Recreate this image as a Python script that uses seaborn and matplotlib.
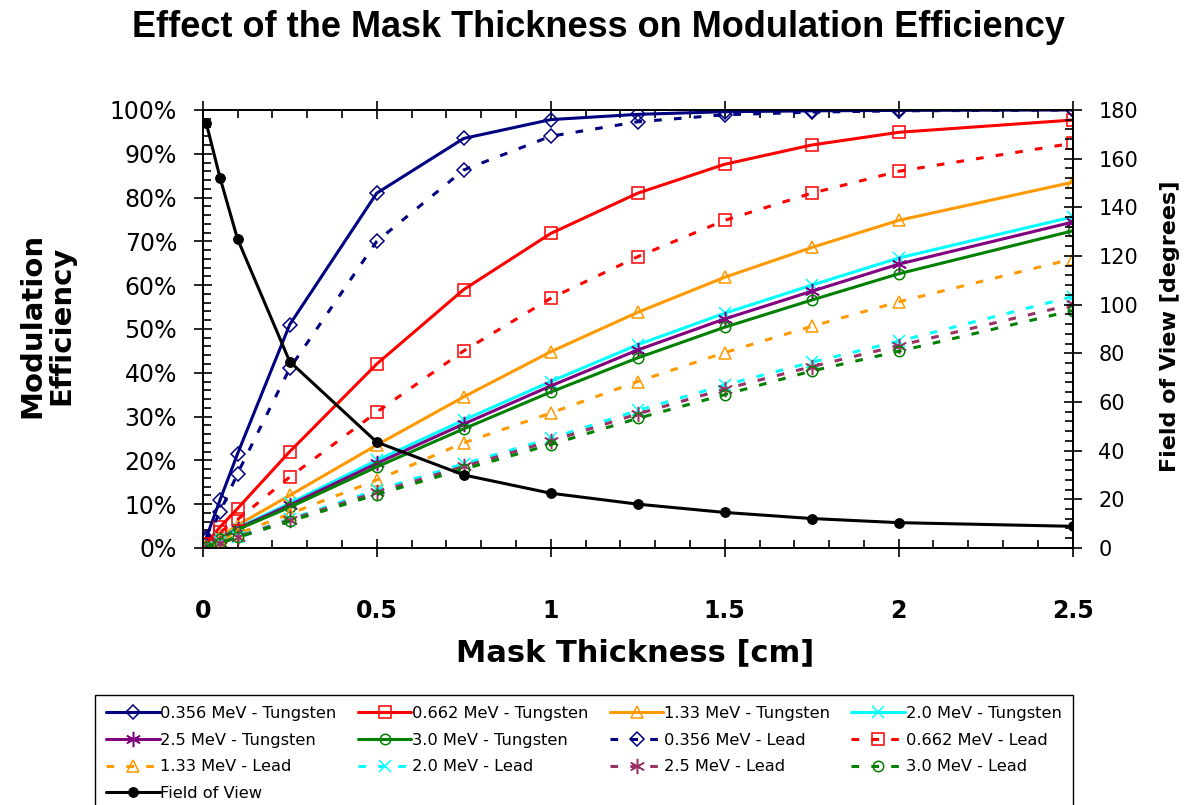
import numpy as np
import pandas as pd
import matplotlib
matplotlib.use("Agg")
import matplotlib.pyplot as plt
from matplotlib.ticker import MultipleLocator, FuncFormatter
import seaborn as sns

# Mask thickness [cm] at which every series was evaluated
thickness = [0.01, 0.05, 0.1, 0.25, 0.5, 0.75, 1.0, 1.25, 1.5, 1.75, 2.0, 2.5]

# Modulation efficiency [%] for a tungsten mask
w_0356 = [2.3, 11.0, 21.5, 51.0, 81.0, 93.5, 97.8, 99.0, 99.6, 99.8, 99.9, 100.0]
w_0662 = [1.0, 4.8, 9.0, 22.0, 42.0, 59.0, 71.8, 81.0, 87.6, 92.0, 94.9, 97.7]
w_133 = [0.6, 2.6, 5.2, 12.0, 23.5, 34.5, 44.8, 53.8, 61.8, 68.6, 74.8, 83.5]
w_20 = [0.5, 2.2, 4.6, 10.2, 20.0, 29.2, 38.0, 46.4, 53.6, 60.0, 66.2, 75.6]
w_25 = [0.5, 2.1, 4.4, 9.8, 19.3, 28.3, 37.0, 45.2, 52.3, 58.6, 64.8, 74.4]
w_30 = [0.5, 2.0, 4.2, 9.3, 18.5, 27.2, 35.6, 43.4, 50.4, 56.6, 62.6, 72.4]

# Modulation efficiency [%] for a lead mask
pb_0356 = [1.8, 8.2, 17.0, 41.0, 70.0, 86.3, 94.0, 97.3, 98.9, 99.5, 99.8, 100.0]
pb_0662 = [0.8, 3.6, 6.5, 16.2, 31.0, 45.0, 57.0, 66.5, 74.8, 81.0, 86.0, 92.4]
pb_133 = [0.4, 1.6, 3.2, 7.8, 15.5, 24.0, 30.8, 38.0, 44.6, 50.6, 56.2, 66.0]
pb_20 = [0.3, 1.3, 2.6, 6.6, 13.2, 19.2, 25.0, 31.4, 37.2, 42.4, 47.2, 57.4]
pb_25 = [0.3, 1.2, 2.5, 6.4, 12.7, 18.6, 24.4, 30.6, 36.3, 41.4, 46.2, 55.6]
pb_30 = [0.3, 1.1, 2.4, 6.1, 12.2, 18.0, 23.6, 29.6, 35.0, 40.4, 44.9, 54.2]

# Field of view [degrees]
fov = [174.7, 152.0, 127.0, 76.6, 43.5, 30.0, 22.5, 18.0, 14.6, 12.1, 10.4, 8.9]

energies = ["0.356", "0.662", "1.33", "2.0", "2.5", "3.0"]
tungsten = [w_0356, w_0662, w_133, w_20, w_25, w_30]
lead = [pb_0356, pb_0662, pb_133, pb_20, pb_25, pb_30]

w_colors = ["#000080", "#FF0000", "#FF9900", "#00FFFF", "#800080", "#008000"]
pb_colors = ["#000080", "#FF0000", "#FF9900", "#00FFFF", "#993366", "#008000"]
markers = ["D", "s", "^", "x", (6, 2, 0), "o"]
msizes = [7.5, 9, 9, 9, 11, 7.5]

sns.set_theme(style="white")
plt.rcParams["font.family"] = ["DejaVu Sans"]
plt.rcParams.update({
    "text.color": "black",
    "axes.labelcolor": "black",
    "xtick.color": "black",
    "ytick.color": "black",
    "axes.edgecolor": "black",
})

fig = plt.figure(figsize=(11.96, 8.05), dpi=100)
ax = fig.add_axes([0.1695, 0.3193, 0.7274, 0.5441])
ax2 = ax.twinx()

handles = {}
for i, e in enumerate(energies):
    df_w = pd.DataFrame({"t": thickness, "eff": tungsten[i]})
    sns.lineplot(data=df_w, x="t", y="eff", ax=ax, color=w_colors[i], lw=2.2,
                 marker=markers[i], markersize=msizes[i], markerfacecolor="none",
                 markeredgecolor=w_colors[i], markeredgewidth=1.1, zorder=3,
                 estimator=None, sort=False)
    handles[("W", i)] = ax.lines[-1]
for i, e in enumerate(energies):
    df_pb = pd.DataFrame({"t": thickness, "eff": lead[i]})
    sns.lineplot(data=df_pb, x="t", y="eff", ax=ax, color=pb_colors[i], lw=2.2,
                 marker=markers[i], markersize=msizes[i], markerfacecolor="none",
                 markeredgecolor=pb_colors[i], markeredgewidth=1.1, zorder=3,
                 estimator=None, sort=False)
    line = ax.lines[-1]
    line.set_dashes((2.5, 4.0))
    handles[("Pb", i)] = line

df_fov = pd.DataFrame({"t": thickness, "fov": fov})
sns.lineplot(data=df_fov, x="t", y="fov", ax=ax2, color="black", lw=2.2,
             marker="o", markersize=7, markerfacecolor="black",
             markeredgecolor="black", estimator=None, sort=False)
fov_line = ax2.lines[-1]

# Axis ranges and ticks
ax.set_xlim(0, 2.5)
ax.set_ylim(0, 100)
ax2.set_ylim(0, 180)
ax.xaxis.set_major_locator(MultipleLocator(0.5))
ax.xaxis.set_minor_locator(MultipleLocator(0.1))
ax.yaxis.set_major_locator(MultipleLocator(10))
ax.yaxis.set_minor_locator(MultipleLocator(2))
ax2.yaxis.set_major_locator(MultipleLocator(20))
ax2.yaxis.set_minor_locator(MultipleLocator(4))
ax.yaxis.set_major_formatter(FuncFormatter(lambda v, p: f"{v:.0f}%"))
ax.xaxis.set_major_formatter(FuncFormatter(lambda v, p: f"{v:g}"))

ax.tick_params(axis="x", which="major", direction="inout", length=13, width=1.2,
               top=True, bottom=True, labelsize=17, pad=30, colors="black")
ax.tick_params(axis="x", which="minor", direction="in", length=6, width=1.2,
               top=True, bottom=True)
ax.tick_params(axis="y", which="major", direction="inout", length=13, width=1.2,
               left=True, labelsize=17, pad=12)
ax.tick_params(axis="y", which="minor", direction="in", length=6, width=1.2, left=True)
ax2.tick_params(axis="y", which="major", direction="inout", length=13, width=1.2,
                right=True, labelsize=15, pad=12)
ax2.tick_params(axis="y", which="minor", direction="in", length=6, width=1.2, right=True)
for lab in ax.get_xticklabels():
    lab.set_fontweight("bold")

for a in (ax, ax2):
    for s in a.spines.values():
        s.set_color("black")
        s.set_linewidth(1.3)
    a.grid(False)

# Titles and axis labels
fig.text(0.5, 0.966, "Effect of the Mask Thickness on Modulation Efficiency",
         ha="center", va="center", fontsize=26, fontweight="bold",
         family=["Liberation Sans", "DejaVu Sans"])
ax.set_xlabel("Mask Thickness [cm]", fontsize=22, fontweight="bold")
ax.xaxis.set_label_coords(0.497, -0.205)
ax.set_ylabel("Modulation\nEfficiency", fontsize=21, fontweight="bold",
              linespacing=1.05, va="center", ha="center")
ax.yaxis.set_label_coords(-0.179, 0.509)
ax2.set_ylabel("Field of View [degrees]", fontsize=16, fontweight="bold",
               va="center", ha="center", rotation=90)
ax2.yaxis.set_label_coords(1.112, 0.506)

# Legend filled column-wise to read row by row in four columns
order = [("W", 0), ("W", 4), ("Pb", 2), "FOV",
         ("W", 1), ("W", 5), ("Pb", 3),
         ("W", 2), ("Pb", 0), ("Pb", 4),
         ("W", 3), ("Pb", 1), ("Pb", 5)]
leg_handles, leg_labels = [], []
for key in order:
    if key == "FOV":
        leg_handles.append(fov_line)
        leg_labels.append("Field of View")
    else:
        mat, i = key
        leg_handles.append(handles[key])
        leg_labels.append(f"{energies[i]} MeV - " + ("Tungsten" if mat == "W" else "Lead"))

leg = fig.legend(leg_handles, leg_labels, ncol=4, loc="upper left",
                 bbox_to_anchor=(0.0794, 0.1366), bbox_transform=fig.transFigure,
                 fontsize=11.7, frameon=True, fancybox=False, edgecolor="black",
                 framealpha=1, borderaxespad=0, handlelength=3.3, handletextpad=0.05,
                 columnspacing=1.3, labelspacing=0.72, borderpad=0.68)
leg.get_frame().set_linewidth(1.0)

fig.savefig("out.png", dpi=100, facecolor="white")
